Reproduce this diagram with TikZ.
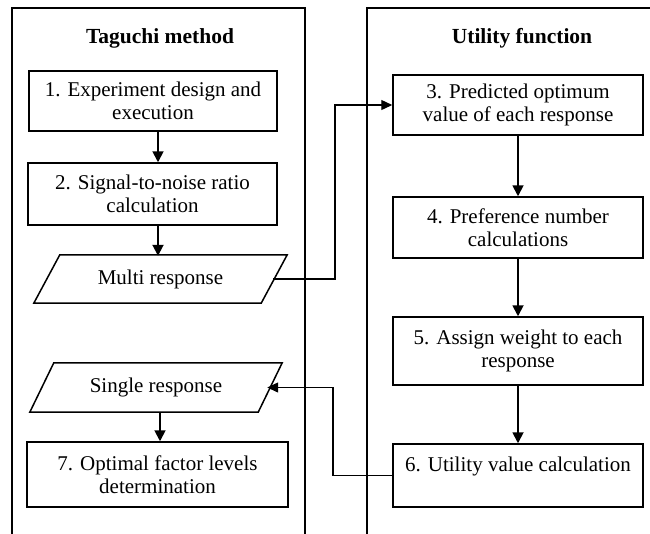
\documentclass[tikz,border=0pt]{standalone}
\usepackage{fontspec}
\setmainfont{Liberation Serif}
\usetikzlibrary{arrows.meta}
\begin{document}
\begin{tikzpicture}[x=1pt,y=-1pt,
  panel/.style={line width=1.2pt},
  procbox/.style={draw,line width=1.5pt,rectangle,align=center,inner sep=2pt,
    font=\fontsize{21}{23}\selectfont},
  iobox/.style={rectangle,inner sep=0pt,align=center,font=\fontsize{21}{23}\selectfont},
  title/.style={font=\fontsize{21.5}{24}\selectfont\bfseries},
  flow/.style={line width=1.8pt,-{Triangle[length=11pt,width=11pt]}},
  link/.style={line width=1.3pt,-{Triangle[length=11pt,width=10pt]}}]
\useasboundingbox (0,0) rectangle (650,533);
% panels
\draw[panel] (12,540) -- (12,8) -- (305,8) -- (305,540);
\draw[panel] (367,540) -- (367,8) -- (660,8);
\node[title] (t1) at (160,38) {Taguchi method};
\node[title] (t2) at (522,38) {Utility function};
% left column
\node[procbox,minimum width=248pt,minimum height=60pt] (b1) at (153,101) {1. Experiment design and\\execution};
\node[procbox,minimum width=249pt,minimum height=62pt] (b2) at (152.5,194) {2. Signal-to-noise ratio\\calculation};
\node[iobox,minimum width=227pt,minimum height=48pt] (multi) at (160.5,279) {Multi response};
\draw[line width=1.5pt] ([xshift=13pt]multi.north west) -- ([xshift=13pt]multi.north east)
  -- ([xshift=-13pt]multi.south east) -- ([xshift=-13pt]multi.south west) -- cycle;
\node[iobox,minimum width=228pt,minimum height=49pt] (single) at (156,387.5) {Single response};
\draw[line width=1.5pt] ([xshift=12pt]single.north west) -- ([xshift=12pt]single.north east)
  -- ([xshift=-12pt]single.south east) -- ([xshift=-12pt]single.south west) -- cycle;
\node[procbox,minimum width=261pt,minimum height=65pt] (b7) at (157.5,474.5) {7. Optimal factor levels\\determination};
% right column
\node[procbox,minimum width=250pt,minimum height=60pt] (b3) at (518,105) {3. Predicted optimum\\value of each response};
\node[procbox,minimum width=250pt,minimum height=61pt] (b4) at (518,227.5) {4. Preference number\\calculations};
\node[procbox,minimum width=250pt,minimum height=68pt] (b5) at (518,351) {5. Assign weight to each\\response};
\node[procbox,minimum width=250pt,minimum height=63pt] (b6) at (518,475.5) {6. Utility value calculation\\\mbox{}};
% flows
\coordinate (ca) at (158,0);
\coordinate (cb) at (160,0);
\draw[flow] (b1.south -| ca) -- (b2.north -| ca);
\draw[flow] (b2.south -| ca) -- ([yshift=-1pt]multi.north -| ca);
\draw[flow] (single.south -| cb) -- (b7.north -| cb);
\draw[flow] (b3.south) -- (b4.north);
\draw[flow] (b4.south) -- (b5.north);
\draw[flow] (b5.south) -- (b6.north);
% links
\coordinate (j1) at (335,0);
\coordinate (j2) at (333,0);
\draw[link] ([xshift=-1pt]multi.east) -- (multi.east -| j1) |- (b3.west);
\draw[link] (b6.west) -| (j2 |- single.east) -- ([xshift=-3pt]single.east);
\end{tikzpicture}
\end{document}
